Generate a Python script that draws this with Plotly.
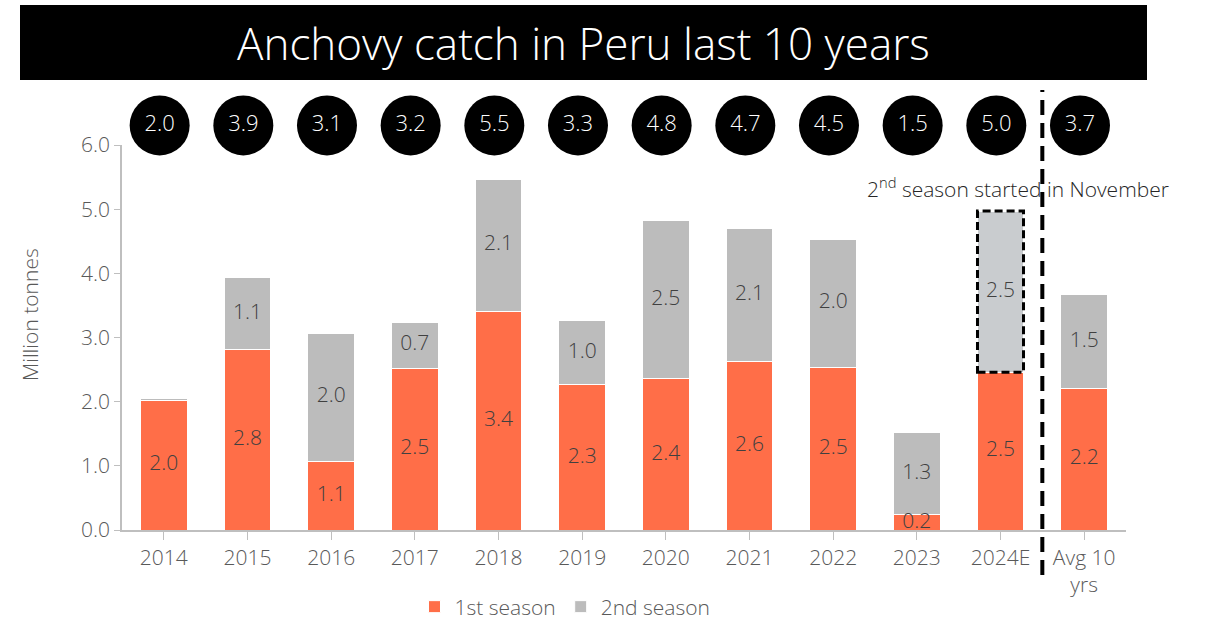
import plotly.graph_objects as go

categories = ["2014", "2015", "2016", "2017", "2018", "2019", "2020", "2021", "2022", "2023", "2024E", "Avg 10<br>yrs"]
first_season = [2.02, 2.82, 1.07, 2.52, 3.41, 2.26, 2.36, 2.62, 2.54, 0.24, 2.46, 2.21]
second_season = [0.03, 1.11, 2.00, 0.72, 2.06, 1.01, 2.46, 2.08, 1.99, 1.28, 2.51, 1.46]
first_labels = ["2.0", "2.8", "1.1", "2.5", "3.4", "2.3", "2.4", "2.6", "2.5", "0.2", "2.5", "2.2"]
second_labels = ["", "1.1", "2.0", "0.7", "2.1", "1.0", "2.5", "2.1", "2.0", "1.3", "2.5", "1.5"]
total_labels = ["2.0", "3.9", "3.1", "3.2", "5.5", "3.3", "4.8", "4.7", "4.5", "1.5", "5.0", "3.7"]
y_ticks = [0, 1, 2, 3, 4, 5, 6]

FONT = "Century Gothic, Open Sans, sans-serif"
WT = 300
TXT = "#595959"
ORANGE = "#FF6E48"
GREY = "#BCBCBC"
LIGHT = "#C9CCCF"

W, H = 1211, 621
L, R, T, B = 122, 1126, 96, 530  # plot area in pixels
PH = B - T
Y_TOP = 145  # pixel where y=6.0


def px(p):
    return (p - L) / (R - L)


def py(p):
    return (B - p) / PH


main_top = py(Y_TOP)

xs = list(range(len(categories)))
totals = [a + b for a, b in zip(first_season, second_season)]
grey_colors = [LIGHT if c == "2024E" else GREY for c in categories]

fig = go.Figure()
fig.add_trace(go.Bar(x=xs, y=first_season, name="1st season",
                     marker=dict(color=ORANGE, line=dict(color="white", width=1)), hoverinfo="y"))
fig.add_trace(go.Bar(x=xs, y=second_season, name="2nd season",
                     marker=dict(color=grey_colors, line=dict(color="white", width=1)), hoverinfo="y"))
fig.add_trace(go.Scatter(x=xs, y=[v / 2 for v in first_season], mode="text", text=first_labels,
                         textfont=dict(family=FONT, size=21, color="#404040", weight=WT), showlegend=False,
                         hoverinfo="skip", cliponaxis=False))
fig.add_trace(go.Scatter(x=xs, y=[a + b / 2 for a, b in zip(first_season, second_season)], mode="text",
                         text=second_labels, textfont=dict(family=FONT, size=21, color="#404040", weight=WT),
                         showlegend=False, hoverinfo="skip", cliponaxis=False))
# total circles on a strip axis above the bars
fig.add_trace(go.Scatter(x=[x - 0.05 for x in xs], y=[0.4] * len(xs), mode="markers+text", text=total_labels,
                         yaxis="y2", marker=dict(size=60, color="black"), textposition="middle center",
                         textfont=dict(family=FONT, size=22, color="white", weight=WT), showlegend=False,
                         hoverinfo="skip", cliponaxis=False))

fig.update_layout(
    barmode="stack",
    bargap=0.44,
    width=W, height=H,
    margin=dict(l=L, r=W - R, t=T, b=H - B, autoexpand=False),
    paper_bgcolor="white", plot_bgcolor="white",
    font=dict(family=FONT, color=TXT, size=20, weight=WT),
    legend=dict(orientation="h", x=px(565), xanchor="center", y=py(607), yanchor="middle",
                font=dict(size=21, color=TXT, weight=WT), traceorder="normal"),
    xaxis=dict(tickmode="array", tickvals=xs, ticktext=categories, range=[-0.5, len(xs) - 0.5],
               showline=True, linecolor="#BFBFBF", linewidth=1.5, ticks="outside", tickson="boundaries",
               tickcolor="#BFBFBF", ticklen=8, tickfont=dict(size=21, color=TXT, weight=WT), showgrid=False,
               automargin=False, anchor="y"),
    yaxis=dict(domain=[0, main_top], range=[0, 6], tickvals=y_ticks, tickformat=".1f", showline=True,
               linecolor="#BFBFBF", linewidth=1.5, ticks="outside", tickcolor="#BFBFBF", ticklen=6,
               tickfont=dict(size=21, color=TXT, weight=WT), showgrid=False, zeroline=False, automargin=False),
    yaxis2=dict(domain=[main_top, 1], range=[0, 1], visible=False, showgrid=False, zeroline=False),
    shapes=[
        dict(type="rect", xref="paper", yref="paper", x0=px(20), x1=px(1147), y0=py(80), y1=py(5),
             fillcolor="black", line=dict(width=0), layer="below"),
        dict(type="line", xref="x", yref="paper", x0=10.5, x1=10.5, y0=py(575), y1=py(90),
             line=dict(color="black", width=4, dash="15px,8px")),
        dict(type="rect", xref="x", yref="y", x0=10 - 0.275, x1=10 + 0.275,
             y0=first_season[10], y1=totals[10], line=dict(color="black", width=3, dash="8px,4px")),
    ],
    annotations=[
        dict(text="Anchovy catch in Peru last 10 years", xref="paper", yref="paper", x=px(583), y=py(43),
             showarrow=False, font=dict(size=44, color="white", family=FONT, weight=WT), xanchor="center",
             yanchor="middle"),
        dict(text="Million tonnes", xref="paper", yref="paper", x=px(30), y=py(315), textangle=-90,
             showarrow=False, font=dict(size=21, color=TXT, family=FONT, weight=WT), xanchor="center",
             yanchor="middle"),
        dict(text="2<sup>nd</sup> season started in November", xref="paper", yref="paper", x=px(1018),
             y=py(187), showarrow=False, font=dict(size=21, color="#262626", family=FONT, weight=WT),
             xanchor="center", yanchor="middle"),
    ],
)

fig.write_html("out.html", config={"displayModeBar": False},
               post_script="document.body.style.margin='0';")
